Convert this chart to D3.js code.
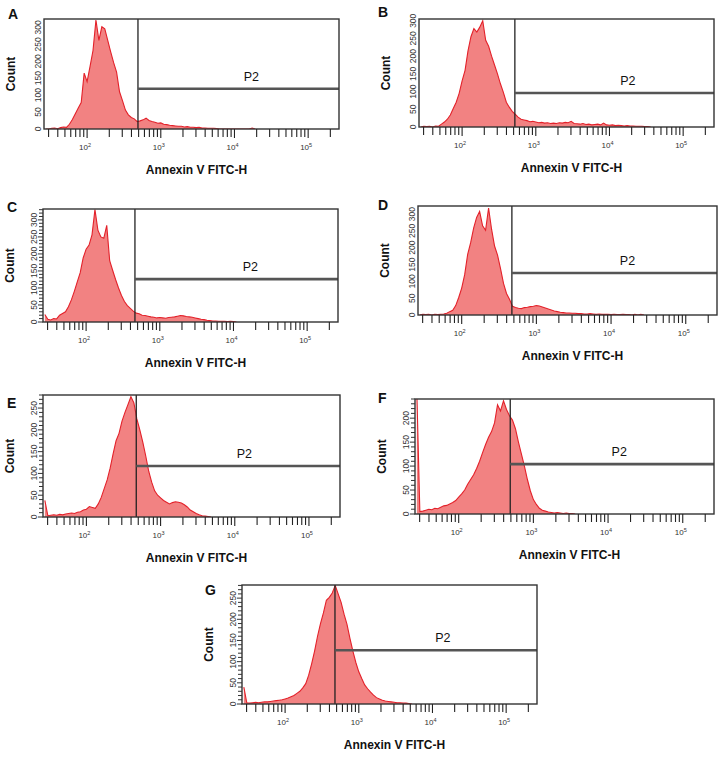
<!DOCTYPE html>
<html>
<head>
<meta charset="utf-8">
<script src="https://cdn.jsdelivr.net/npm/d3@7"></script>
<style>
body { margin: 0; background: #fff; }
text { font-family: Arial, "Liberation Sans", sans-serif; }
</style>
</head>
<body>
<script>
// histogram bins: log10 channel of the first bin and bin width
var binStart = 1.44
var binStep = 0.04

var panelNames = ["A", "B", "C", "D", "E", "F", "G"]

var countsA = [0,0,2,3,1,4,6,5,14,28,45,62,78,165,140,185,232,322,262,302,296,262,228,196,168,110,84,56,42,34,
	30,22,24,27,32,25,22,20,17,18,14,13,11,10,9,8,8,6,7,5,5,4,5,3,3,2,2,2,1,0,0,0,0,0,0,0,0,0,0,0,3,0]
var countsB = [0,2,1,2,0,3,2,8,14,22,34,52,70,95,130,160,215,255,278,268,282,300,245,228,200,175,150,122,98,70,
	56,44,36,28,22,20,18,15,16,14,12,13,11,12,10,11,10,12,11,13,12,16,10,9,8,10,7,8,6,7,
	8,6,11,6,5,6,4,5,4,3,4,3,3,2,2,2,1,1,0]
var countsC = [22,8,6,10,9,20,25,30,45,65,90,118,145,188,214,226,256,330,270,250,246,284,180,152,125,100,78,60,48,40,
	32,26,24,20,19,17,15,14,12,13,12,11,13,14,15,17,19,18,16,15,14,12,10,8,7,5,4,3,3,2,
	2,2,1,2,1,0]
var countsD = [0,2,1,2,0,2,1,2,3,5,10,14,28,52,80,120,180,215,258,290,308,265,252,318,255,205,178,138,94,64,
	47,26,22,20,19,22,23,25,26,28,27,24,21,18,15,12,10,8,7,6,6,5,5,4,4,3,3,4,3,2,
	3,2,2,2,1,2,1,1,2,1,1,0,2,0,2,0]
var countsE = [38,3,4,5,4,6,5,7,8,9,8,11,12,16,18,24,22,20,30,45,65,85,112,145,175,192,220,240,258,276,
	262,225,200,172,140,105,80,60,50,44,38,34,30,33,35,34,32,28,23,16,12,8,5,3,2,1,0]
var countsF = [250,5,6,8,10,9,12,11,14,17,18,21,24,28,35,42,50,62,72,82,95,110,128,145,160,172,190,228,215,236,
	218,205,196,178,150,125,100,72,48,30,20,12,8,6,4,3,2,3,2,1,2,1,1,0]
var countsG = [40,3,2,3,4,3,4,5,5,6,7,8,9,10,12,14,17,20,25,30,38,48,68,95,125,160,190,215,245,252,
	262,280,260,240,212,188,155,125,98,76,60,45,36,28,21,15,12,9,7,6,5,4,3,3,2,2,1,0]
var allCounts = [countsA, countsB, countsC, countsD, countsE, countsF, countsG]

// P2 gate: marker position and the level of its bar
var gateValues = [490, 520, 460, 470, 470, 490, 475]
var gateBarCounts = [119, 96, 126, 125, 117, 104, 127]
var p2Log = [4.23, 4.25, 4.23, 4.22, 4.13, 4.15, 4.14]

var yMaxes = [325, 305, 332, 324, 280, 240, 281]
var yTickValues = [
	[0,50,100,150,200,250,300],
	[0,50,100,150,200,250,300],
	[0,50,100,150,200,250,300],
	[0,50,100,150,200,250,300],
	[0,50,100,150,200,250],
	[0,50,100,150,200],
	[0,50,100,150,200,250]
]
var denseYTicks = [false, false, true, false, true, true, true]

var xDecades = [100, 1000, 10000, 100000]
var xDecadeExp = ["2", "3", "4", "5"]
var xDomain = [26, 262144]

var xTitle = "Annexin V FITC-H"
var yTitle = "Count"
var gateName = "P2"

// panel boxes in page pixels
var layout = [
	{x: 44, y: 19, w: 295, h: 110, lx: 8, ly: 19},
	{x: 419, y: 19, w: 295, h: 108, lx: 378, ly: 17},
	{x: 43, y: 209, w: 295, h: 113, lx: 7, ly: 212},
	{x: 418, y: 206, w: 299, h: 109, lx: 378, ly: 210},
	{x: 43, y: 395, w: 297, h: 122, lx: 7, ly: 408},
	{x: 415, y: 399, w: 299, h: 115, lx: 378, ly: 403},
	{x: 242, y: 585, w: 295, h: 119, lx: 205, ly: 595}
]

var svg = d3.select("body").append("svg")
	.attr("width", 725)
	.attr("height", 757)

// minor tick values 30..200000
var xTickAll = []
for (var e = 1; e <= 5; ++e) {
	for (var m = 1; m <= 9; ++m) {
		var v = m * Math.pow(10, e)
		if (v >= 30 && v <= 200000) xTickAll.push(v)
	}
}

panelNames.forEach(function(name, p) {
	var L = layout[p]
	var counts = allCounts[p]

	var x = d3.scaleLog().domain(xDomain).range([0, L.w])
	var y = d3.scaleLinear().domain([0, yMaxes[p]]).range([L.h, 0])

	var g = svg.append("g").attr("transform", "translate(" + L.x + "," + L.y + ")")

	g.append("clipPath").attr("id", "clip" + name)
		.append("rect").attr("width", L.w).attr("height", L.h)

	var bins = counts.map(function(c, i) {
		return {lg: binStart + i * binStep, c: c}
	})

	var area = d3.area()
		.x(function(d) { return x(Math.pow(10, d.lg)) })
		.y0(L.h)
		.y1(function(d) { return y(d.c) })
	var line = d3.line()
		.x(function(d) { return x(Math.pow(10, d.lg)) })
		.y(function(d) { return y(d.c) })

	var hist = g.append("g").attr("clip-path", "url(#clip" + name + ")")
	hist.append("path").datum(bins)
		.attr("d", area)
		.attr("fill", "#f28282")
	hist.append("path").datum(bins)
		.attr("d", line)
		.attr("fill", "none")
		.attr("stroke", "#e3212a")
		.attr("stroke-width", 1.1)

	// gate
	var gx = x(gateValues[p])
	g.append("line")
		.attr("x1", gx).attr("x2", gx)
		.attr("y1", 0).attr("y2", L.h)
		.attr("stroke", "#222").attr("stroke-width", 1.3)
	g.append("line")
		.attr("x1", gx).attr("x2", L.w)
		.attr("y1", y(gateBarCounts[p])).attr("y2", y(gateBarCounts[p]))
		.attr("stroke", "#555").attr("stroke-width", 2.6)
	g.append("text")
		.attr("x", x(Math.pow(10, p2Log[p])))
		.attr("y", y(gateBarCounts[p]) - 8)
		.attr("text-anchor", "middle")
		.attr("font-size", 12.5)
		.attr("fill", "#111")
		.text(gateName)

	// frame
	g.append("rect")
		.attr("width", L.w).attr("height", L.h)
		.attr("fill", "none")
		.attr("stroke", "#333").attr("stroke-width", 1.4)

	// x ticks
	g.selectAll(".xt").data(xTickAll).enter().append("line")
		.attr("x1", function(d) { return x(d) })
		.attr("x2", function(d) { return x(d) })
		.attr("y1", L.h)
		.attr("y2", function(d) { return xDecades.indexOf(d) >= 0 ? L.h + 9 : L.h + 8 })
		.attr("stroke", "#222").attr("stroke-width", 1.1)

	var xl = g.selectAll(".xl").data(xDecades).enter().append("text")
		.attr("x", function(d) { return x(d) - 2 })
		.attr("y", L.h + 21)
		.attr("text-anchor", "middle")
		.attr("font-size", 8)
		.attr("fill", "#333")
	xl.append("tspan").text("10")
	xl.append("tspan")
		.attr("dy", -3.5)
		.attr("font-size", 5.5)
		.text(function(d, i) { return xDecadeExp[i] })

	// y ticks
	var labelOff = 3.5
	if (denseYTicks[p]) {
		g.selectAll(".yt").data(d3.range(0, yMaxes[p] + 1, 10)).enter().append("line")
			.attr("x1", 0)
			.attr("x2", function(d) { return d % 50 === 0 ? -5 : -4 })
			.attr("y1", function(d) { return y(d) })
			.attr("y2", function(d) { return y(d) })
			.attr("stroke", "#333").attr("stroke-width", 1)
		labelOff = 6.5
	}
	g.selectAll(".yl").data(yTickValues[p]).enter().append("text")
		.attr("transform", function(d) {
			return "translate(" + (-labelOff) + "," + y(d) + ") rotate(-90)"
		})
		.attr("text-anchor", "middle")
		.attr("font-size", 8.5)
		.attr("fill", "#333")
		.text(function(d) { return d })

	// titles
	g.append("text")
		.attr("transform", "translate(-29," + (L.h / 2) + ") rotate(-90)")
		.attr("text-anchor", "middle")
		.attr("font-size", 12)
		.attr("font-weight", "bold")
		.attr("fill", "#111")
		.text(yTitle)
	g.append("text")
		.attr("x", L.w / 2 + 5)
		.attr("y", L.h + 45)
		.attr("text-anchor", "middle")
		.attr("font-size", 12)
		.attr("font-weight", "bold")
		.attr("fill", "#111")
		.text(xTitle)

	svg.append("text")
		.attr("x", L.lx).attr("y", L.ly)
		.attr("font-size", 14)
		.attr("font-weight", "bold")
		.attr("fill", "#111")
		.text(name)
})
</script>
</body>
</html>
